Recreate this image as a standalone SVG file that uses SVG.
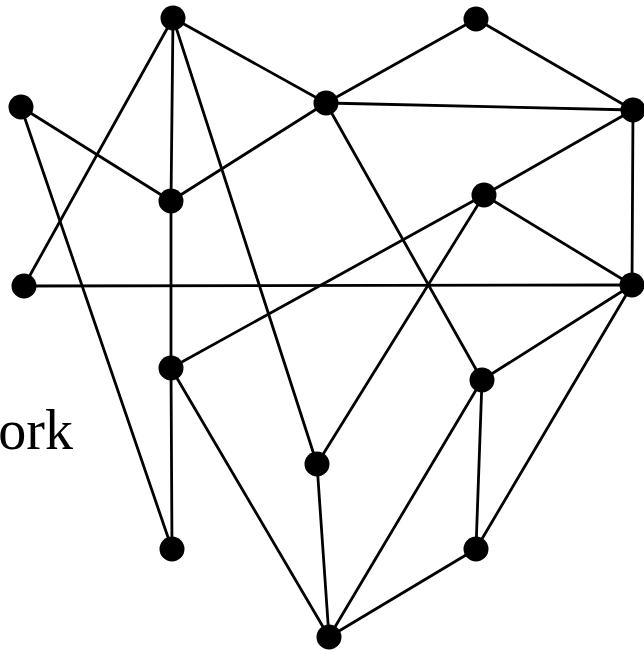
<svg xmlns="http://www.w3.org/2000/svg" width="644" height="651" viewBox="0 0 644 651">
<style>
.e{stroke:#000;stroke-width:2.8;stroke-linecap:round;fill:none}
.n{fill:#000}
.t{font-family:"Liberation Serif","DejaVu Serif",serif;font-size:56px;fill:#000}
</style>
<rect width="644" height="651" fill="#fff"/>
<text class="t" x="73" y="449" text-anchor="end">ork</text>
<g id="connectors">
<line class="e" x1="173" y1="18" x2="24" y2="286"/>
<line class="e" x1="173" y1="18" x2="171" y2="201"/>
<line class="e" x1="173" y1="18" x2="317" y2="464"/>
<line class="e" x1="173" y1="18" x2="326" y2="103"/>
<line class="e" x1="21" y1="107" x2="171" y2="201"/>
<line class="e" x1="21" y1="107" x2="172" y2="549"/>
<line class="e" x1="326" y1="103" x2="171" y2="201"/>
<line class="e" x1="326" y1="103" x2="476" y2="19"/>
<line class="e" x1="326" y1="103" x2="633" y2="110"/>
<line class="e" x1="326" y1="103" x2="482" y2="380"/>
<line class="e" x1="476" y1="19" x2="633" y2="110"/>
<line class="e" x1="633" y1="110" x2="484" y2="195"/>
<line class="e" x1="633" y1="110" x2="632" y2="285"/>
<line class="e" x1="484" y1="195" x2="171" y2="368"/>
<line class="e" x1="484" y1="195" x2="317" y2="464"/>
<line class="e" x1="484" y1="195" x2="632" y2="285"/>
<line class="e" x1="24" y1="286" x2="632" y2="285"/>
<line class="e" x1="171" y1="201" x2="171" y2="368"/>
<line class="e" x1="171" y1="368" x2="172" y2="549"/>
<line class="e" x1="171" y1="368" x2="329" y2="637"/>
<line class="e" x1="482" y1="380" x2="632" y2="285"/>
<line class="e" x1="482" y1="380" x2="476" y2="549"/>
<line class="e" x1="482" y1="380" x2="329" y2="637"/>
<line class="e" x1="632" y1="285" x2="476" y2="549"/>
<line class="e" x1="317" y1="464" x2="329" y2="637"/>
<line class="e" x1="476" y1="549" x2="329" y2="637"/>
</g>
<g id="A"><circle class="n" cx="173" cy="18" r="12.5"/></g>
<g id="B"><circle class="n" cx="476" cy="19" r="12.5"/></g>
<g id="C"><circle class="n" cx="21" cy="107" r="12.5"/></g>
<g id="D"><circle class="n" cx="326" cy="103" r="12.5"/></g>
<g id="E"><circle class="n" cx="633" cy="110" r="12.5"/></g>
<g id="F"><circle class="n" cx="171" cy="201" r="12.5"/></g>
<g id="G"><circle class="n" cx="484" cy="195" r="12.5"/></g>
<g id="H"><circle class="n" cx="24" cy="286" r="12.5"/></g>
<g id="I"><circle class="n" cx="632" cy="285" r="12.5"/></g>
<g id="J"><circle class="n" cx="171" cy="368" r="12.5"/></g>
<g id="K"><circle class="n" cx="482" cy="380" r="12.5"/></g>
<g id="L"><circle class="n" cx="317" cy="464" r="12.5"/></g>
<g id="M"><circle class="n" cx="172" cy="549" r="12.5"/></g>
<g id="N"><circle class="n" cx="476" cy="549" r="12.5"/></g>
<g id="O"><circle class="n" cx="329" cy="637" r="12.5"/></g>
</svg>
